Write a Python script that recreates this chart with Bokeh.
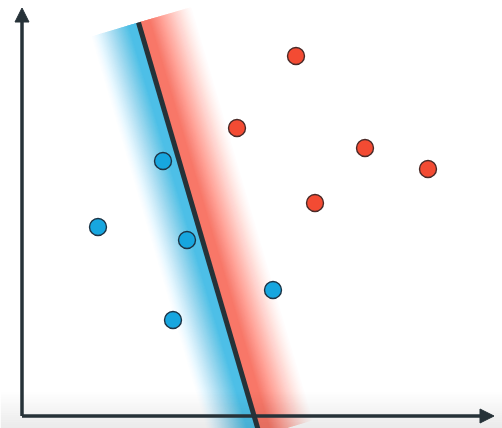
import numpy as np
from bokeh.plotting import figure
from bokeh.models import Range1d, Arrow, NormalHead
from bokeh.embed import file_html
from bokeh.resources import INLINE

# ---- data (in chart units, origin at the axes' corner) ----
blue_x = [76, 141, 165, 151, 251]
blue_y = [189, 255, 176, 96, 126]
red_x = [274, 215, 343, 406, 293]
red_y = [360, 288, 268, 247, 213]

# decision boundary end points
boundary_x = [116.5, 238.0]
boundary_y = [393.5, -20.0]

# axis extents
x_axis_end = 472
y_axis_end = 408

# band widths (perpendicular to the boundary)
blue_band_width = 50
red_band_width = 56

DARK = "#263238"
BLUE_BAND = (64, 190, 232)
RED_BAND = (248, 112, 94)

p = figure(width=502, height=428, output_backend="svg", toolbar_location=None,
           x_range=Range1d(-21.5, 480.5), y_range=Range1d(-12.5, 415.5),
           min_border=0, outline_line_color=None, background_fill_color="white")
p.axis.visible = False
p.grid.visible = False

# ---- gradient bands beside the boundary ----
top = np.array([boundary_x[0], boundary_y[0]])
bot = np.array([boundary_x[1], boundary_y[1]])
d = (bot - top) / np.linalg.norm(bot - top)
nrm = np.array([-d[1], d[0]])
if nrm[0] < 0:
    nrm = -nrm


def profile(t, solid, amax):
    if t < solid:
        return amax
    u = (t - solid) / (1 - solid)
    return amax * (1 - u) ** 1.3


def band(side, width, rgb, solid, amax, n=48):
    ts = [(i + 1) / n for i in range(n)]
    A = [profile((i + 0.5) / n, solid, amax) for i in range(n)] + [0.0]
    alphas = []
    for i in range(n):
        a = 1 - (1 - A[i]) / (1 - A[i + 1])
        alphas.append(max(a, 0.0))
    xs, ys, al = [], [], []
    for i in reversed(range(n)):
        o1 = side * nrm * width * ts[i]
        pts = [top, top + o1, bot + o1, bot]
        xs.append([q[0] for q in pts])
        ys.append([q[1] for q in pts])
        al.append(alphas[i])
    p.patches(xs, ys, fill_color="rgb(%d,%d,%d)" % rgb, fill_alpha=al,
              line_color=None)


band(-1, blue_band_width, BLUE_BAND, 0.2, 0.92)
band(1, red_band_width, RED_BAND, 0.2, 0.92)

# ---- faint grey shading at the bottom ----
ng = 16
gy = np.linspace(24, -12.5, ng + 1)
for i in range(ng):
    p.quad(left=-21.5, right=480.5, bottom=gy[i + 1], top=gy[i],
           fill_color="black", fill_alpha=0.08 * (i + 1) / ng, line_color=None)

# ---- boundary line ----
p.line(boundary_x, boundary_y, line_color=DARK, line_width=5)

# ---- axes with arrows ----
p.add_layout(Arrow(end=NormalHead(size=14, fill_color=DARK, line_color=DARK),
                   x_start=0, y_start=0, x_end=x_axis_end, y_end=0,
                   line_color=DARK, line_width=3.5))
p.add_layout(Arrow(end=NormalHead(size=14, fill_color=DARK, line_color=DARK),
                   x_start=0, y_start=0, x_end=0, y_end=y_axis_end,
                   line_color=DARK, line_width=3.5))

# ---- points ----
p.scatter(blue_x, blue_y, size=17, fill_color="#17a6df", line_color="#1d3446",
          line_width=1.4)
p.scatter(red_x, red_y, size=17, fill_color="#f34b33", line_color="#4a2a28",
          line_width=1.4)

open("out.html", "w").write(file_html(p, INLINE))
